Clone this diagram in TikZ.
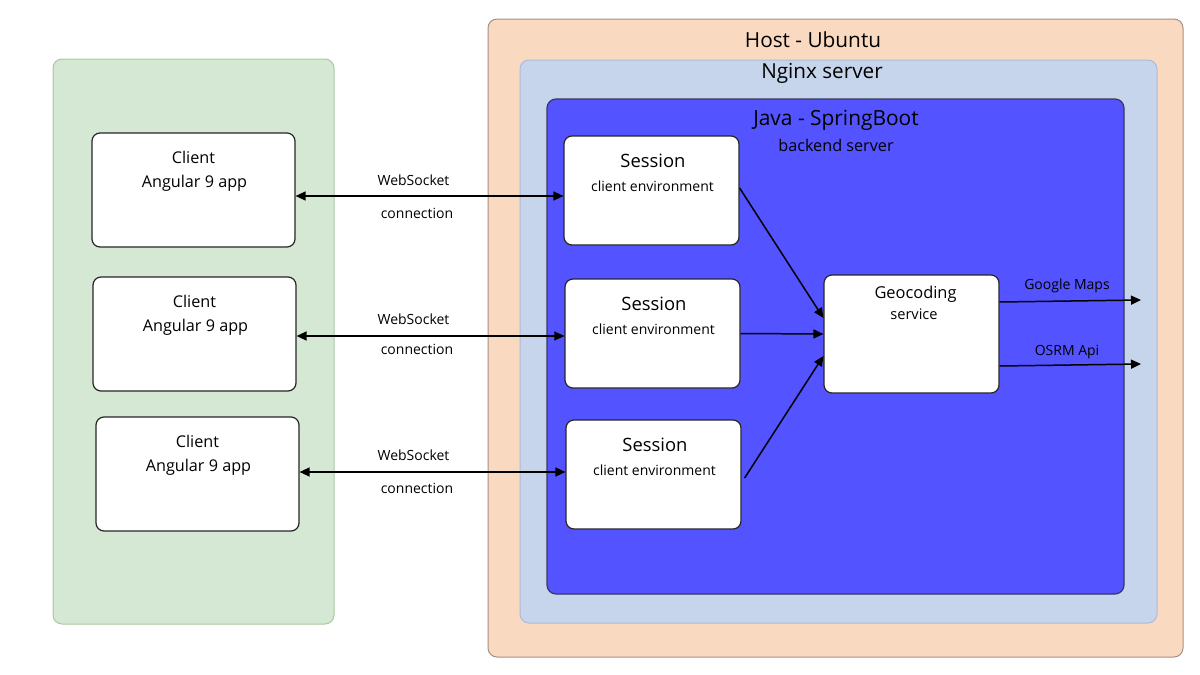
\documentclass[tikz,border=0pt]{standalone}
\usepackage{fontspec}
\setmainfont{Open Sans}
\usetikzlibrary{arrows.meta,calc}
\definecolor{greenfill}{HTML}{D5E8D4}
\definecolor{greendraw}{HTML}{A9C99F}
\definecolor{hostfill}{HTML}{FAD9C1}
\definecolor{hostdraw}{HTML}{A58F82}
\definecolor{nginxfill}{HTML}{C6D4EC}
\definecolor{nginxdraw}{HTML}{AEBBD3}
\definecolor{javafill}{HTML}{5353FF}
\definecolor{javadraw}{HTML}{3A3A5A}
\tikzset{
  area/.style={rounded corners=9pt, line width=1pt},
  whitebox/.style={draw=black!85, fill=white, rounded corners=8pt, line width=1.2pt},
  conn/.style={line width=1.5pt, -{Triangle[length=10pt,width=9pt]}},
  dconn/.style={line width=1.5pt, {Triangle[length=10pt,width=9pt]}-{Triangle[length=10pt,width=9pt]}},
  lbl/.style={inner sep=0pt, font=\fontsize{14}{17}\selectfont},
  boxtitle/.style={inner sep=0pt, font=\fontsize{16.2}{19}\selectfont},
  sesstitle/.style={inner sep=0pt, font=\fontsize{18.4}{22}\selectfont},
  sesssub/.style={inner sep=0pt, font=\fontsize{14}{17}\selectfont},
  extlbl/.style={inner sep=0pt, font=\fontsize{14}{17}\selectfont},
}
\begin{document}
\begin{tikzpicture}[x=1pt,y=-1pt]
\useasboundingbox (0,0) rectangle (1200,675);
% containers
\draw[area, draw=greendraw, fill=greenfill] (53,59) rectangle (334,624);
\draw[area, draw=hostdraw, fill=hostfill] (488,19) rectangle (1183,657);
\draw[area, draw=nginxdraw, fill=nginxfill] (520,60) rectangle (1157,623);
\draw[area, draw=javadraw, fill=javafill, line width=1.2pt] (547,99) rectangle (1124,594);
\node[inner sep=0pt, font=\fontsize{20.8}{25}\selectfont] (hostt) at (813,40) {Host - Ubuntu};
\node[inner sep=0pt, font=\fontsize{20.7}{25}\selectfont] (nginxt) at (822,73) {Nginx server};
\node[inner sep=0pt, font=\fontsize{20.9}{25}\selectfont] (javat) at (836,120) {Java - SpringBoot};
\node[inner sep=0pt, font=\fontsize{16.2}{19}\selectfont] (javas) at (836,145) {backend server};
% clients
\node[whitebox, minimum width=203pt, minimum height=114pt, inner sep=0pt] (c1) at (193.5,190) {};
\node[whitebox, minimum width=203pt, minimum height=114pt, inner sep=0pt] (c2) at (194.5,334) {};
\node[whitebox, minimum width=203pt, minimum height=114pt, inner sep=0pt] (c3) at (197.5,474) {};
\node[boxtitle] (c1a) at (193.5,157) {Client};
\node[boxtitle] (c1b) at (194.5,183.5) {Angular 9 app};
\node[boxtitle] (c2a) at (194.5,301) {Client};
\node[boxtitle] (c2b) at (195.5,327.5) {Angular 9 app};
\node[boxtitle] (c3a) at (197.5,441) {Client};
\node[boxtitle] (c3b) at (198.5,467.5) {Angular 9 app};
% sessions
\node[whitebox, minimum width=175pt, minimum height=109pt, inner sep=0pt] (s1) at (651.5,190.5) {};
\node[whitebox, minimum width=175pt, minimum height=109pt, inner sep=0pt] (s2) at (652.5,333.5) {};
\node[whitebox, minimum width=175pt, minimum height=109pt, inner sep=0pt] (s3) at (653.5,474.5) {};
\node[sesstitle] (s1a) at (653,161) {Session};
\node[sesssub] (s1b) at (652.5,186) {client environment};
\node[sesstitle] (s2a) at (654,304) {Session};
\node[sesssub] (s2b) at (653.5,329) {client environment};
\node[sesstitle] (s3a) at (655,445) {Session};
\node[sesssub] (s3b) at (654.5,470) {client environment};
% geocoding
\node[whitebox, minimum width=175pt, minimum height=118pt, inner sep=0pt] (geo) at (911.5,334) {};
\node[inner sep=0pt, font=\fontsize{16.4}{20}\selectfont] (geoa) at (915.5,294) {Geocoding};
\node[inner sep=0pt, font=\fontsize{14.6}{17}\selectfont] (geob) at (914,314) {service};
% websocket connections
\draw[dconn] ($(c1.east)+(0,6)$) -- ($(s1.west)+(0,5.5)$);
\draw[dconn] ($(c2.east)+(0,2)$) -- ($(s2.west)+(0,2.5)$);
\draw[dconn] ($(c3.east)+(0,-2)$) -- ($(s3.west)+(0,-2.5)$);
\node[lbl] (w1) at (413.5,180) {WebSocket};
\node[lbl] (w1b) at (417,213) {connection};
\node[lbl] (w2) at (413.5,319) {WebSocket};
\node[lbl] (w2b) at (417,349) {connection};
\node[lbl] (w3) at (413.5,455) {WebSocket};
\node[lbl] (w3b) at (417,488) {connection};
% sessions to geocoding
\draw[conn] ($(s1.east)+(0,-2.5)$) -- ($(geo.west)+(0,-16)$);
\draw[conn] ($(s2.east)+(0,0)$) -- ($(geo.west)+(0,0)$);
\draw[conn] ($(s3.east)+(3,3.5)$) -- ($(geo.west)+(0,22)$);
% external
\coordinate (gm) at (1141,300);
\coordinate (osrm) at (1141,364);
\draw[conn] ($(geo.east)+(0,-32)$) -- (gm);
\draw[conn] ($(geo.east)+(0,32)$) -- (osrm);
\node[extlbl] (gml) at (1067,286) {Google Maps};
\node[extlbl] (osl) at (1067,352) {OSRM Api};
\end{tikzpicture}
\end{document}
